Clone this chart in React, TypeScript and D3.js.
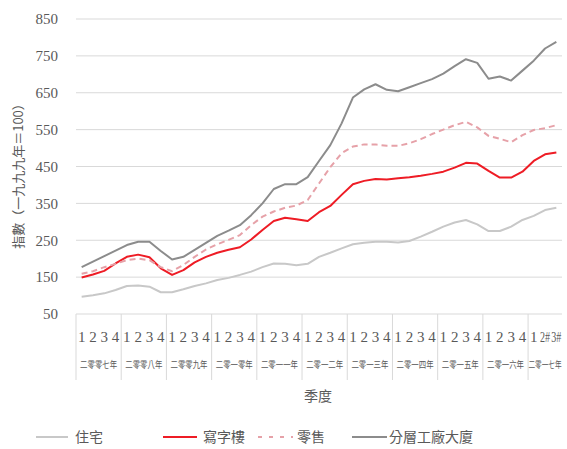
import React from 'react';
import { scaleBand, scaleLinear, line, range } from 'd3';

// 季度標籤
const quarterLabels = [
  '1', '2', '3', '4', '1', '2', '3', '4', '1', '2', '3', '4', '1', '2', '3', '4',
  '1', '2', '3', '4', '1', '2', '3', '4', '1', '2', '3', '4', '1', '2', '3', '4',
  '1', '2', '3', '4', '1', '2', '3', '4', '1', '2#', '3#',
];
const yearLabels = [
  '二零零七年', '二零零八年', '二零零九年', '二零一零年', '二零一一年', '二零一二年',
  '二零一三年', '二零一四年', '二零一五年', '二零一六年', '二零一七年',
];
const yTicks = [50, 150, 250, 350, 450, 550, 650, 750, 850];

const residential = [
  97, 101, 106, 115, 126, 127, 124, 109, 109, 117, 126, 133, 142, 148, 156, 165,
  177, 187, 186, 182, 186, 205, 216, 228, 239, 243, 246, 246, 244, 248, 260, 273,
  287, 298, 305, 293, 275, 275, 287, 305, 316, 332, 338,
];
const office = [
  149, 157, 167, 187, 205, 211, 204, 174, 156, 169, 190, 205, 216, 224, 231, 252,
  278, 302, 311, 307, 302, 326, 343, 373, 402, 411, 416, 415, 418, 421, 425, 430,
  436, 447, 460, 458, 438, 420, 420, 436, 465, 483, 488,
];
const retail = [
  159, 166, 177, 186, 196, 200, 196, 177, 166, 183, 205, 225, 239, 251, 264, 291,
  314, 328, 338, 344, 359, 404, 448, 486, 504, 510, 510, 506, 506, 513, 524, 538,
  550, 562, 571, 556, 533, 525, 516, 535, 549, 554, 562,
];
const factory = [
  177, 192, 207, 222, 237, 246, 246, 221, 198, 205, 224, 243, 262, 276, 291, 318,
  350, 389, 402, 402, 421, 465, 508, 567, 637, 659, 673, 658, 654, 665, 676, 687,
  702, 722, 741, 731, 688, 694, 683, 710, 737, 770, 788,
];

const seriesNames = ['住宅', '寫字樓', '零售', '分層工廠大廈'];

const W = 567;
const H = 449;
const left = 76;
const right = 562;
const top = 19;
const bottom = 314;

const serifFont = '"Liberation Serif", "Times New Roman", serif';
const cjkFont = '"Noto Sans CJK TC", "Noto Sans CJK SC", sans-serif';
const textColor = '#595959';
const gridColor = '#d9d9d9';

export default function App() {
  const idx = range(quarterLabels.length);
  const x = scaleBand<number>().domain(idx).range([left, right]).padding(0);
  const y = scaleLinear().domain([50, 850]).range([bottom, top]);
  const cx = (i: number) => x(i)! + x.bandwidth() / 2;

  const lineGen = line<number>()
    .x((_, i) => cx(i))
    .y(d => y(d));

  const series = [
    { name: seriesNames[0], data: residential, color: '#c8c8c8', dash: undefined, legendDash: undefined },
    { name: seriesNames[1], data: office, color: '#ee1c25', dash: undefined, legendDash: undefined },
    { name: seriesNames[2], data: retail, color: '#e6a1a8', dash: '6,4', legendDash: '4,7' },
    { name: seriesNames[3], data: factory, color: '#8c8c8c', dash: undefined, legendDash: undefined },
  ];

  // group boundaries (every 4 quarters)
  const groupStarts = yearLabels.map((_, g) => g * 4);

  const legendPos = [
    { x1: 36, x2: 68, tx: 75 },
    { x1: 163, x2: 197, tx: 203 },
    { x1: 258, x2: 293, tx: 297 },
    { x1: 352, x2: 387, tx: 389 },
  ];

  return (
    <svg width={W} height={H} style={{ position: 'absolute', left: 0, top: 0, background: '#fff' }}>
      {/* gridlines */}
      {yTicks.map(t => (
        <line key={t} x1={left} x2={right} y1={y(t)} y2={y(t)} stroke={gridColor} strokeWidth={1} />
      ))}
      {/* y tick labels */}
      {yTicks.map(t => (
        <text key={'l' + t} x={58} y={y(t)} dy="0.35em" textAnchor="end" fontFamily={serifFont} fontSize={15} fill={textColor}>
          {t}
        </text>
      ))}
      {/* y axis title */}
      <text
        transform={`translate(17, 173) rotate(-90)`}
        textAnchor="middle"
        dominantBaseline="central"
        fontFamily={cjkFont}
        fontSize={13}
        fill={textColor}
      >
        指數（一九九九年＝100）
      </text>

      {/* category separators */}
      {groupStarts.map(s => (
        <line key={'s' + s} x1={x(s)!} x2={x(s)!} y1={bottom} y2={380} stroke={gridColor} strokeWidth={1} />
      ))}
      {/* quarter labels */}
      {quarterLabels.map((q, i) =>
        q.length > 1 ? (
          <text
            key={'q' + i}
            transform={`translate(${cx(i)}, 342) scale(0.72, 1)`}
            textAnchor="middle"
            fontFamily={serifFont}
            fontSize={14}
            fill={textColor}
          >
            {q}
          </text>
        ) : (
          <text key={'q' + i} x={cx(i)} y={342} textAnchor="middle" fontFamily={serifFont} fontSize={15} fill={textColor}>
            {q}
          </text>
        )
      )}
      {/* year labels */}
      {yearLabels.map((yl, g) => {
        const n = Math.min(4, quarterLabels.length - g * 4);
        const mid = x(g * 4)! + (n * x.bandwidth()) / 2;
        const sx = n < 4 ? 0.7 : 0.78;
        return (
          <text
            key={'y' + g}
            transform={`translate(${mid}, 368) scale(${sx}, 1)`}
            textAnchor="middle"
            fontFamily={cjkFont}
            fontSize={9.5}
            fill={textColor}
          >
            {yl}
          </text>
        );
      })}
      {/* x axis title */}
      <text x={318} y={401} textAnchor="middle" fontFamily={cjkFont} fontSize={14} fill={textColor}>
        季度
      </text>

      {/* series lines */}
      {series.map(s => (
        <path
          key={s.name}
          d={lineGen(s.data) || ''}
          fill="none"
          stroke={s.color}
          strokeWidth={2}
          strokeDasharray={s.dash}
          strokeLinejoin="round"
        />
      ))}

      {/* legend */}
      {series.map((s, i) => (
        <g key={'lg' + i}>
          <line
            x1={legendPos[i].x1}
            x2={legendPos[i].x2}
            y1={437}
            y2={437}
            stroke={s.color}
            strokeWidth={2}
            strokeDasharray={s.legendDash}
          />
          <text x={legendPos[i].tx} y={437} dy="0.35em" fontFamily={cjkFont} fontSize={14} fill={textColor}>
            {s.name}
          </text>
        </g>
      ))}
    </svg>
  );
}
